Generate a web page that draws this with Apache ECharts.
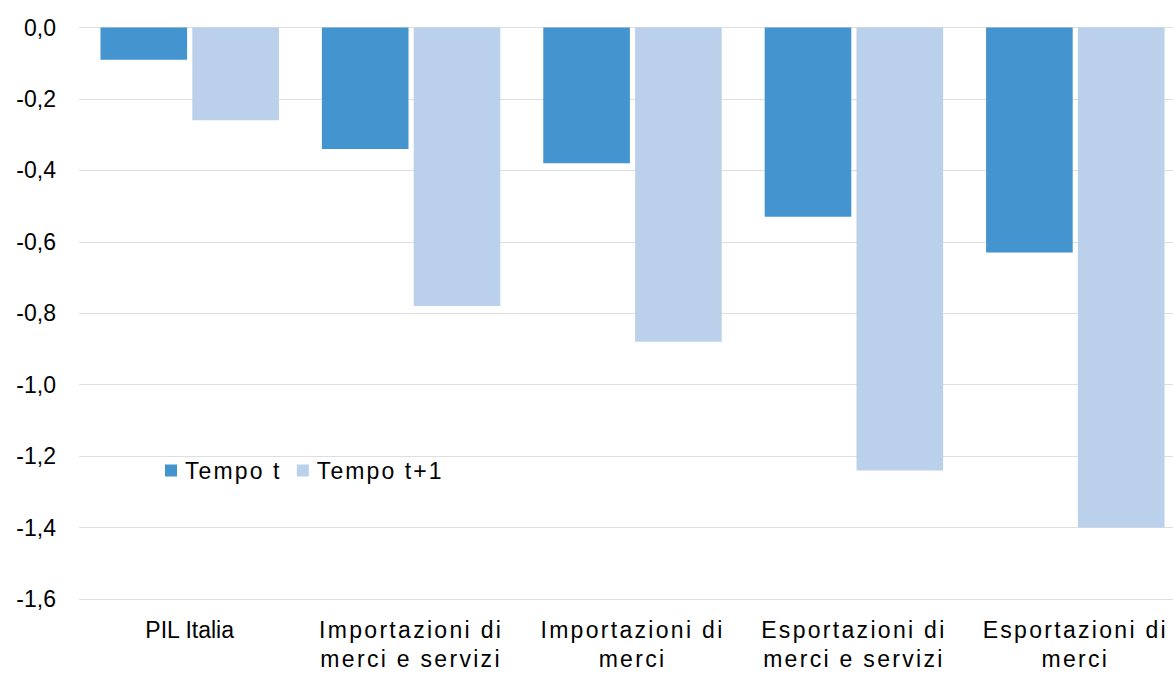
<!DOCTYPE html>
<html><head><meta charset="utf-8">
<script src="https://cdn.jsdelivr.net/npm/echarts@6/dist/echarts.min.js"></script>
<style>
html,body{margin:0;padding:0;background:#fff;overflow:hidden;width:1173px;height:673px}
#wrap{width:1173px;height:673px;overflow:hidden;position:absolute;left:0;top:0}
#c{width:1186px;height:673px;position:absolute;left:0;top:0}
#c text[style*="sans-serif"]{letter-spacing:2.3px}
#c text[style*="Arial"]{letter-spacing:2.1px}
</style>
</head><body><div id="wrap"><div id="c"></div></div>
<script>
const categories = ['PIL Italia', 'Importazioni di\nmerci e servizi', 'Importazioni di\nmerci', 'Esportazioni di\nmerci e servizi', 'Esportazioni di\nmerci'];
const seriesNames = ['Tempo t', 'Tempo t+1'];
const tempoT = [-0.09, -0.34, -0.38, -0.53, -0.63];
const tempoT1 = [-0.26, -0.78, -0.88, -1.24, -1.40];
const colors = ['#4494D0', '#BBD0EA'];

const spacedFont = "'Liberation Sans', sans-serif";
const plainFont = 'Liberation Sans';
const chart = echarts.init(document.getElementById('c'), null, {renderer: 'svg', width: 1186, height: 673});
chart.setOption({
  animation: false,
  color: colors,
  grid: {left: 79, right: 0, top: 27.5, bottom: 70.5, containLabel: false},
  legend: {
    left: 160, top: 454, itemWidth: 12, itemHeight: 12, itemGap: 30, icon: 'rect',
    textStyle: {fontFamily: "'Liberation Sans', Arial", fontSize: 23, color: '#000', padding: [0, 0, 0, 3]},
    data: seriesNames
  },
  xAxis: {
    type: 'category',
    data: categories.map(c => ({value: c, textStyle: {fontFamily: c.indexOf('\n') >= 0 ? spacedFont : plainFont}})),
    position: 'bottom',
    axisLine: {show: false}, axisTick: {show: false},
    axisLabel: {fontSize: 23, color: '#000', margin: 16, lineHeight: 29, interval: 0}
  },
  yAxis: {
    type: 'value', min: -1.6, max: 0, interval: 0.2,
    axisLine: {show: false}, axisTick: {show: false},
    splitLine: {lineStyle: {color: '#dedede', width: 1}},
    axisLabel: {fontFamily: plainFont, fontSize: 23, color: '#000', margin: 23,
      formatter: v => v.toFixed(1).replace('.', ',').replace('-0,0', '0,0')}
  },
  series: [
    {name: seriesNames[0], type: 'bar', data: tempoT, barGap: '6%', barCategoryGap: '19.4%'},
    {name: seriesNames[1], type: 'bar', data: tempoT1, barGap: '6%', barCategoryGap: '19.4%'}
  ]
});
</script></body></html>
